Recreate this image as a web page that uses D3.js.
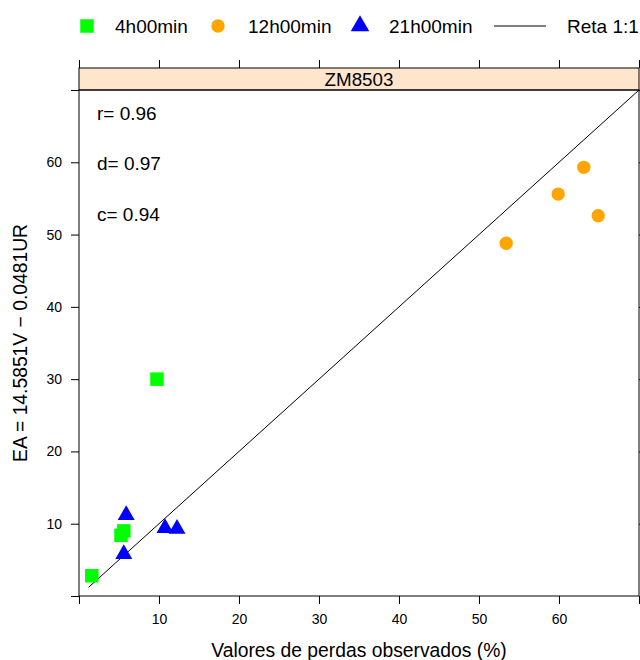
<!DOCTYPE html>
<html>
<head>
<meta charset="utf-8">
<script src="https://cdn.jsdelivr.net/npm/d3@7"></script>
<style>
  body { margin: 0; background: #fff; }
  text { font-family: "Liberation Sans", Arial, sans-serif; fill: #000; }
</style>
</head>
<body>
<div id="chart"></div>
<script>
const seriesNames = ["4h00min", "12h00min", "21h00min"];
const seriesColors = ["#00ff00", "#ffa500", "#0000ff"];
const obs4h = [1.6, 5.25, 5.6, 9.75];
const est4h = [2.8, 8.4, 9.0, 30.0];
const obs12h = [53.4, 59.9, 63.1, 64.9];
const est12h = [48.8, 55.6, 59.3, 52.6];
const obs21h = [5.9, 5.6, 10.75, 12.25];
const est21h = [11.2, 5.8, 9.4, 9.3];
const refLine = [1.2, 70];
const tickValues = [0, 10, 20, 30, 40, 50, 60, 70];
const stats = ["r= 0.96", "d= 0.97", "c= 0.94"];
const panelTitle = "ZM8503";

const margin = { top: 90, right: 1, bottom: 64, left: 79 };
const width = 640 - margin.left - margin.right;
const height = 660 - margin.top - margin.bottom;

const svgRoot = d3.select("#chart").append("svg")
    .attr("width", 640)
    .attr("height", 660);
const svg = svgRoot.append("g")
    .attr("transform", "translate(" + margin.left + "," + margin.top + ")");

const x = d3.scaleLinear().domain([0, 70]).range([0, width]);
const y = d3.scaleLinear().domain([0, 70]).range([height, 0]);

const fmt = d => (d === 0 || d === 70) ? "" : d;

// axes (lattice style: ticks all around, labels bottom/left)
svg.append("g")
    .attr("transform", `translate(0, ${height})`)
    .call(d3.axisBottom(x).tickValues(tickValues).tickSize(8).tickPadding(10).tickFormat(fmt))
    .call(g => g.select(".domain").remove())
    .selectAll("text").style("font-size", "14px");
svg.append("g")
    .call(d3.axisLeft(y).tickValues(tickValues).tickSize(8).tickPadding(9).tickFormat(fmt))
    .call(g => g.select(".domain").remove())
    .selectAll("text").style("font-size", "14px");
svg.append("g")
    .attr("transform", `translate(${width}, 0)`)
    .call(d3.axisRight(y).tickValues(tickValues).tickSize(8).tickFormat(""))
    .call(g => g.select(".domain").remove());

// strip
const stripH = 22;
svg.append("g")
    .attr("transform", `translate(0, ${-stripH})`)
    .call(d3.axisTop(x).tickValues(tickValues).tickSize(8).tickFormat(""))
    .call(g => g.select(".domain").remove());
svg.append("rect")
    .attr("x", 0).attr("y", -stripH)
    .attr("width", width).attr("height", stripH)
    .style("fill", "#ffe5cc").style("stroke", "#000").style("stroke-width", 1);
svg.append("text")
    .attr("x", width / 2).attr("y", -stripH / 2)
    .attr("dy", "0.35em").attr("text-anchor", "middle")
    .style("font-size", "18.8px")
    .text(panelTitle);

// panel border
svg.append("rect")
    .attr("x", 0).attr("y", 0)
    .attr("width", width).attr("height", height)
    .style("fill", "none").style("stroke", "#000").style("stroke-width", 1);

// 1:1 line
svg.append("line")
    .attr("x1", x(refLine[0])).attr("y1", y(refLine[0]))
    .attr("x2", x(refLine[1])).attr("y2", y(refLine[1]))
    .style("stroke", "#000").style("stroke-width", 1);

// points
const sq = d3.symbol().type(d3.symbolSquare).size(13.5 * 13.5);
const ci = d3.symbol().type(d3.symbolCircle).size(Math.PI * 6.7 * 6.7);
const tr = d3.symbol().type(d3.symbolTriangle).size(125);

svg.selectAll(".p4").data(obs4h).enter().append("path")
    .attr("d", sq)
    .attr("transform", (d, i) => `translate(${x(d)},${y(est4h[i])})`)
    .style("fill", seriesColors[0]);
svg.selectAll(".p12").data(obs12h).enter().append("path")
    .attr("d", ci)
    .attr("transform", (d, i) => `translate(${x(d)},${y(est12h[i])})`)
    .style("fill", seriesColors[1]);
svg.selectAll(".p21").data(obs21h).enter().append("path")
    .attr("d", tr)
    .attr("transform", (d, i) => `translate(${x(d)},${y(est21h[i])})`)
    .style("fill", seriesColors[2]);

// stats text
svg.selectAll(".stat").data(stats).enter().append("text")
    .attr("x", 18)
    .attr("y", (d, i) => 23 + i * 50.5)
    .attr("dy", "0.35em")
    .style("font-size", "19px")
    .text(d => d);

// axis titles
svgRoot.append("text")
    .attr("x", margin.left + width / 2).attr("y", 650)
    .attr("dy", "0.35em").attr("text-anchor", "middle")
    .style("font-size", "19.3px")
    .text("Valores de perdas observados (%)");
svgRoot.append("text")
    .attr("transform", `translate(20, ${margin.top + height / 2}) rotate(-90)`)
    .attr("dy", "0.35em").attr("text-anchor", "middle")
    .style("font-size", "19.3px")
    .text("EA = 14.5851V \u2212 0.0481UR");

// legend
const leg = svgRoot.append("g").attr("transform", "translate(0, 26)");
const legSyms = [sq, ci, d3.symbol().type(d3.symbolTriangle).size(150)];
const legSymX = [87, 218, 360];
const legTextX = [115, 248, 389];
seriesNames.forEach((name, i) => {
    leg.append("path")
        .attr("d", legSyms[i])
        .attr("transform", `translate(${legSymX[i]}, 0)`)
        .style("fill", seriesColors[i]);
    leg.append("text")
        .attr("x", legTextX[i]).attr("dy", "0.35em")
        .style("font-size", "19px")
        .text(name);
});
leg.append("line")
    .attr("x1", 494).attr("x2", 546)
    .style("stroke", "#000").style("stroke-width", 1);
leg.append("text")
    .attr("x", 567).attr("dy", "0.35em")
    .style("font-size", "19px")
    .text("Reta 1:1");
</script>
</body>
</html>
